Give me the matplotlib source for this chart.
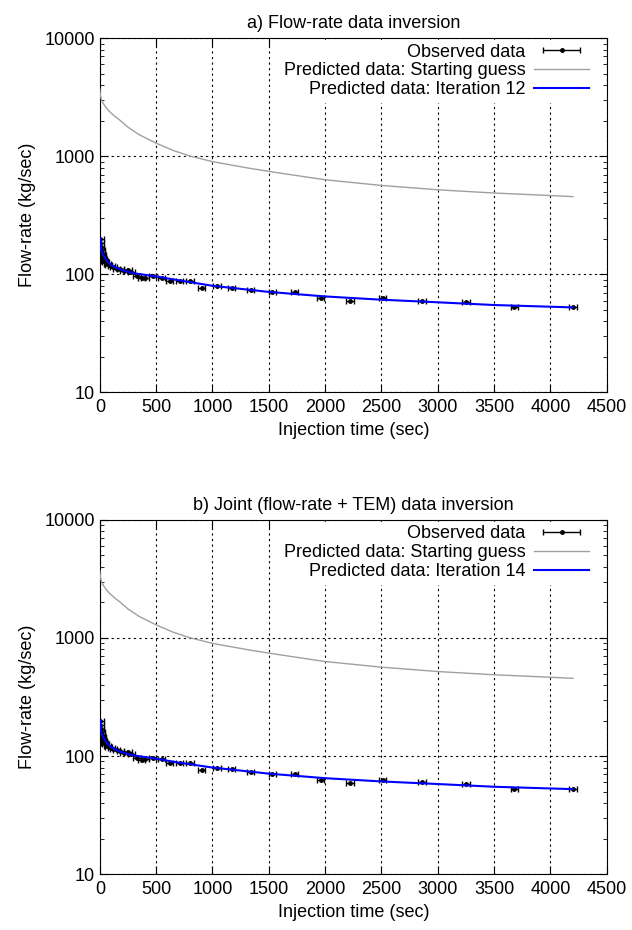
import numpy as np
import matplotlib.pyplot as plt
from matplotlib.container import ErrorbarContainer
from matplotlib.legend_handler import HandlerErrorbar

plt.rcParams['font.family'] = ['Liberation Sans', 'DejaVu Sans']
plt.rcParams['font.size'] = 13

# Observed flow-rate data (time in sec, flow-rate in kg/sec)
t_obs = [2, 5, 8, 12, 16, 20, 25, 30, 40, 50, 65, 80, 100, 120, 150, 180, 210, 250,
         280, 330, 370, 400, 470, 550, 620, 710, 800, 905, 1040, 1170, 1340, 1530,
         1730, 1960, 2220, 2510, 2860, 3250, 3680, 4200]
q_obs = [200, 185, 170, 160, 152, 145, 140, 135, 130, 126, 122, 120, 117, 115, 112,
         110, 106, 108, 104, 96, 93, 94, 96, 94, 88, 88, 88, 76, 79, 77, 74, 71, 71,
         63, 59, 63, 60, 58, 52.5, 52.5]
t_err = 32

# Starting guess (gray curve)
t_start = [0, 5, 15, 30, 50, 75, 100, 140, 178, 250, 350, 500, 650, 800, 1000, 1330,
           1600, 2000, 2500, 3000, 3500, 4000, 4200]
q_start = [3700, 3250, 2990, 2800, 2620, 2450, 2320, 2150, 2020, 1760, 1520, 1290,
           1120, 1005, 900, 790, 720, 632, 566, 520, 488, 465, 455]

# Predicted data after final iteration (blue curve)
t_pred = [0, 5, 10, 20, 44, 70, 100, 133, 190, 250, 310, 400, 500, 700, 1000, 1500,
          2000, 2500, 3000, 3500, 4200]
q_pred_a = [200, 178, 163, 150, 137, 127, 120, 115, 109, 105, 102, 99, 96, 89, 80,
            71, 65, 61, 58, 55, 52.5]
q_pred_b = [200, 178, 162, 149, 136, 126, 119, 114, 108, 104, 101, 98, 95, 88, 80,
            71, 65, 61, 58, 55, 52.5]

panels = [
    ('a) Flow-rate data inversion', 'Predicted data: Iteration 12', q_pred_a, 0.578),
    ('b) Joint (flow-rate + TEM) data inversion', 'Predicted data: Iteration 14', q_pred_b, 0.060),
]

fig = plt.figure(figsize=(6.32, 9.3), dpi=100)

for title, it_label, q_pred, bottom in panels:
    ax = fig.add_axes([0.158, bottom, 0.802, 0.381])
    obs = ax.errorbar(t_obs, q_obs, xerr=t_err, fmt='o', color='black', ms=2.5,
                      elinewidth=1, capsize=2, label='Observed data', zorder=4)
    start, = ax.plot(t_start, q_start, color='#a0a0a0', lw=1,
                     label='Predicted data: Starting guess', zorder=3)
    pred, = ax.plot(t_pred, q_pred, color='blue', lw=1.5, label=it_label, zorder=5)

    ax.set_yscale('log')
    ax.set_xlim(0, 4500)
    ax.set_ylim(10, 10000)
    ax.set_xticks(np.arange(0, 4501, 500))
    ax.set_yticks([10, 100, 1000, 10000])
    ax.set_yticklabels(['10', '100', '1000', '10000'])
    ax.tick_params(which='both', direction='in', top=True, right=True)
    ax.tick_params(which='major', length=6)
    ax.tick_params(which='minor', length=3)
    ax.tick_params(axis='x', pad=5)
    ax.grid(True, which='major', color='black', ls=(0, (2, 3)), lw=0.8)
    ax.set_title(title, fontsize=13, pad=7)
    ax.set_xlabel('Injection time (sec)', labelpad=4)
    ax.set_ylabel('Flow-rate (kg/sec)', labelpad=6)

    leg = ax.legend([obs, start, pred],
                    ['Observed data', 'Predicted data: Starting guess', it_label],
                    loc='upper right', markerfirst=False, frameon=True, fancybox=False,
                    edgecolor='white', framealpha=1, borderaxespad=0.1, borderpad=0.2,
                    bbox_to_anchor=(0.975, 1.0),
                    handlelength=3.0, handletextpad=0.5, labelspacing=0.1,
                    handler_map={ErrorbarContainer: HandlerErrorbar(xerr_size=1.0)})
    leg.set_zorder(6)

fig.savefig('out.png', dpi=100)
